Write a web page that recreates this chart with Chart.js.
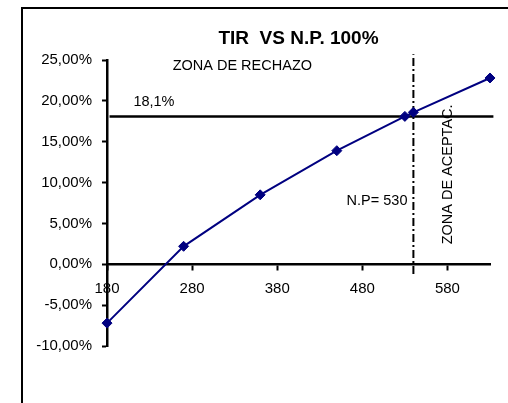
<!DOCTYPE html>
<html>
<head>
<meta charset="utf-8">
<script src="https://cdn.jsdelivr.net/npm/chart.js@4.4.0/dist/chart.umd.min.js"></script>
<style>
  html, body { margin: 0; padding: 0; background: #fff; overflow: hidden; }
  #wrap { position: relative; width: 508px; height: 403px; }
  #frame { position: absolute; left: 21px; top: 7px; width: 600px; height: 600px; border: 2px solid #000; }
  #tirChart { position: absolute; left: 0; top: 0; }
</style>
</head>
<body>
<div id="wrap">
  <div id="frame"></div>
  <canvas id="tirChart" width="508" height="403"></canvas>
</div>
<script>
// N.P. (x) vs TIR in % (y)
const npValues = [180, 270, 360, 450, 530, 540, 630];
const tirValues = [-7.2, 2.2, 8.5, 13.9, 18.1, 18.6, 22.8];
const xTicks = [180, 280, 380, 480, 580];

// reference lines
const tirLimit = 18.1;
const tirLimitSpan = [183, 634];
const npLimit = 540;
const npLimitSpan = [-1.2, 25.7];

const FONT = "'Liberation Sans', Arial, sans-serif";

// text notes placed in data units
const notes = [
  { text: 'ZONA DE RECHAZO', x: 339, y: 24.3, align: 'center' },
  { text: '18,1%', x: 211, y: 19.9, align: 'left' },
  { text: 'N.P= 530', x: 533, y: 7.75, align: 'right' },
  { text: 'ZONA DE ACEPTAC.', x: 581, y: 11.0, align: 'center', rotate: true }
];

const notesPlugin = {
  id: 'notes',
  afterDatasetsDraw(chart) {
    const ctx = chart.ctx;
    const xs = chart.scales.x, ys = chart.scales.y;
    ctx.save();
    ctx.fillStyle = '#000';
    ctx.font = '14.5px ' + FONT;
    ctx.textBaseline = 'middle';
    notes.forEach(n => {
      const px = xs.getPixelForValue(n.x);
      const py = ys.getPixelForValue(n.y);
      ctx.save();
      ctx.translate(px, py);
      if (n.rotate) ctx.rotate(-Math.PI / 2);
      ctx.textAlign = n.align;
      ctx.fillText(n.text, 0, 0);
      ctx.restore();
    });
    ctx.restore();
  }
};

document.addEventListener('DOMContentLoaded', function () {
  const ctx = document.getElementById('tirChart').getContext('2d');
  new Chart(ctx, {
    type: 'line',
    data: {
      datasets: [{
        label: 'TIR',
        data: npValues.map((x, i) => ({ x: x, y: tirValues[i] })),
        borderColor: '#000080',
        backgroundColor: '#000080',
        borderWidth: 2,
        pointStyle: 'rectRot',
        pointRadius: 5,
        pointBorderWidth: 1,
        tension: 0,
        clip: false
      }, {
        label: 'limite TIR',
        data: tirLimitSpan.map(x => ({ x: x, y: tirLimit })),
        borderColor: '#000',
        borderWidth: 2.5,
        pointRadius: 0,
        clip: false
      }, {
        label: 'limite NP',
        data: npLimitSpan.map(y => ({ x: npLimit, y: y })),
        borderColor: '#000',
        borderWidth: 2,
        borderDash: [8, 3, 2, 3],
        pointRadius: 0,
        clip: false
      }]
    },
    options: {
      responsive: false,
      animation: false,
      layout: { padding: { left: 0, right: 18, top: 17, bottom: 57 } },
      plugins: {
        legend: { display: false },
        tooltip: { enabled: false },
        title: {
          display: true,
          text: 'TIR  VS N.P. 100%',
          fullSize: false,
          color: '#000',
          font: { family: FONT, size: 19, weight: 'bold' },
          padding: { top: 10, bottom: 10.2 }
        }
      },
      scales: {
        x: {
          type: 'linear',
          min: 180,
          max: 630,
          position: { y: 0 },
          afterBuildTicks: s => { s.ticks = xTicks.map(v => ({ value: v })); },
          ticks: {
            color: '#000',
            font: { family: FONT, size: 15 },
            padding: 11,
            maxRotation: 0,
            callback: v => String(v)
          },
          grid: { drawOnChartArea: false, tickLength: 5, tickColor: '#000', tickWidth: 2 },
          border: { color: '#000', width: 2.5 }
        },
        y: {
          min: -10,
          max: 25,
          afterFit: s => { s.width = 107; },
          ticks: {
            stepSize: 5,
            color: '#000',
            font: { family: FONT, size: 15 },
            padding: 10,
            callback: v => v.toFixed(2).replace('.', ',') + '%'
          },
          grid: { drawOnChartArea: false, tickLength: 5, tickColor: '#000', tickWidth: 2 },
          border: { color: '#000', width: 2.5 }
        }
      }
    },
    plugins: [notesPlugin]
  });
});
</script>
</body>
</html>
